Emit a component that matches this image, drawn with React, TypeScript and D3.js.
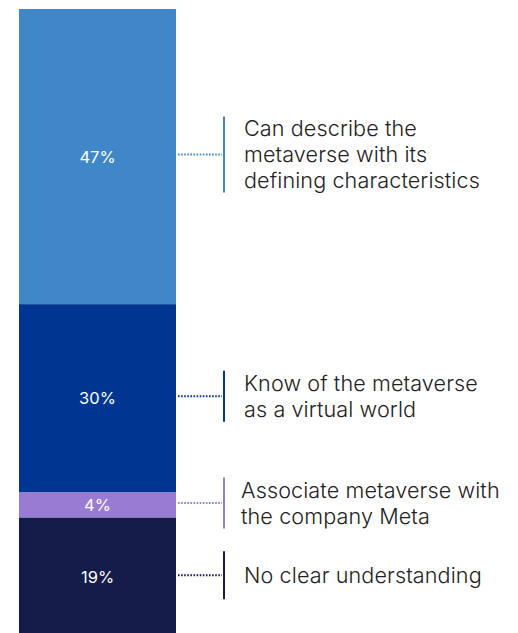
import React from "react";
import * as d3 from "d3";

const categories = [
  "Can describe the metaverse with its defining characteristics",
  "Know of the metaverse as a virtual world",
  "Associate metaverse with the company Meta",
  "No clear understanding",
];
const labelLines = [
  ["Can describe the", "metaverse with its", "defining characteristics"],
  ["Know of the metaverse", "as a virtual world"],
  ["Associate metaverse with", "the company Meta"],
  ["No clear understanding"],
];
const values = [47, 30, 4, 19];
const colors = ["#3f87c8", "#003591", "#9a7bd3", "#151c4a"];

const W = 518;
const H = 633;

export default function App() {
  const barX0 = 19;
  const barX1 = 176;
  const total = d3.sum(values);
  const y = d3.scaleLinear().domain([0, total]).range([9, 637]);
  const stacked = values.map((v, i) => {
    const start = d3.sum(values.slice(0, i));
    return { v, i, y0: y(start), y1: y(start + v) };
  });
  const lineH = 26;
  return (
    <svg
      width={W}
      height={H}
      style={{ position: "absolute", left: 0, top: 0, background: "#fff" }}
      fontFamily="Inter, 'Noto Sans', sans-serif"
    >
      {stacked.map((s) => {
        const cy = (s.y0 + s.y1) / 2;
        const ay = cy - 2;
        const lines = labelLines[s.i];
        const vh = Math.max(48, lines.length * 25 + 1);
        return (
          <g key={categories[s.i]}>
            <rect x={barX0} y={s.y0} width={barX1 - barX0} height={s.y1 - s.y0} fill={colors[s.i]} />
            <text
              x={(barX0 + barX1) / 2}
              y={cy}
              dy="0.36em"
              textAnchor="middle"
              fill="#fff"
              fontSize={16.5}
              fontWeight={400}
            >
              {s.v}%
            </text>
            <line
              x1={178}
              x2={222}
              y1={ay}
              y2={ay}
              stroke={colors[s.i]}
              strokeWidth={2}
              strokeDasharray="1.6 1.5"
            />
            <line
              x1={224}
              x2={224}
              y1={ay - vh / 2}
              y2={ay + vh / 2}
              stroke={colors[s.i]}
              strokeWidth={2}
            />
            <text fill="#222" fontSize={21.6} fontWeight={300} letterSpacing={0.1}>
              {lines.map((l, k) => (
                <tspan
                  key={k}
                  x={s.i === 2 ? 241 : 244}
                  y={ay + (k - (lines.length - 1) / 2) * lineH}
                  dy="0.36em"
                >
                  {l}
                </tspan>
              ))}
            </text>
          </g>
        );
      })}
    </svg>
  );
}
